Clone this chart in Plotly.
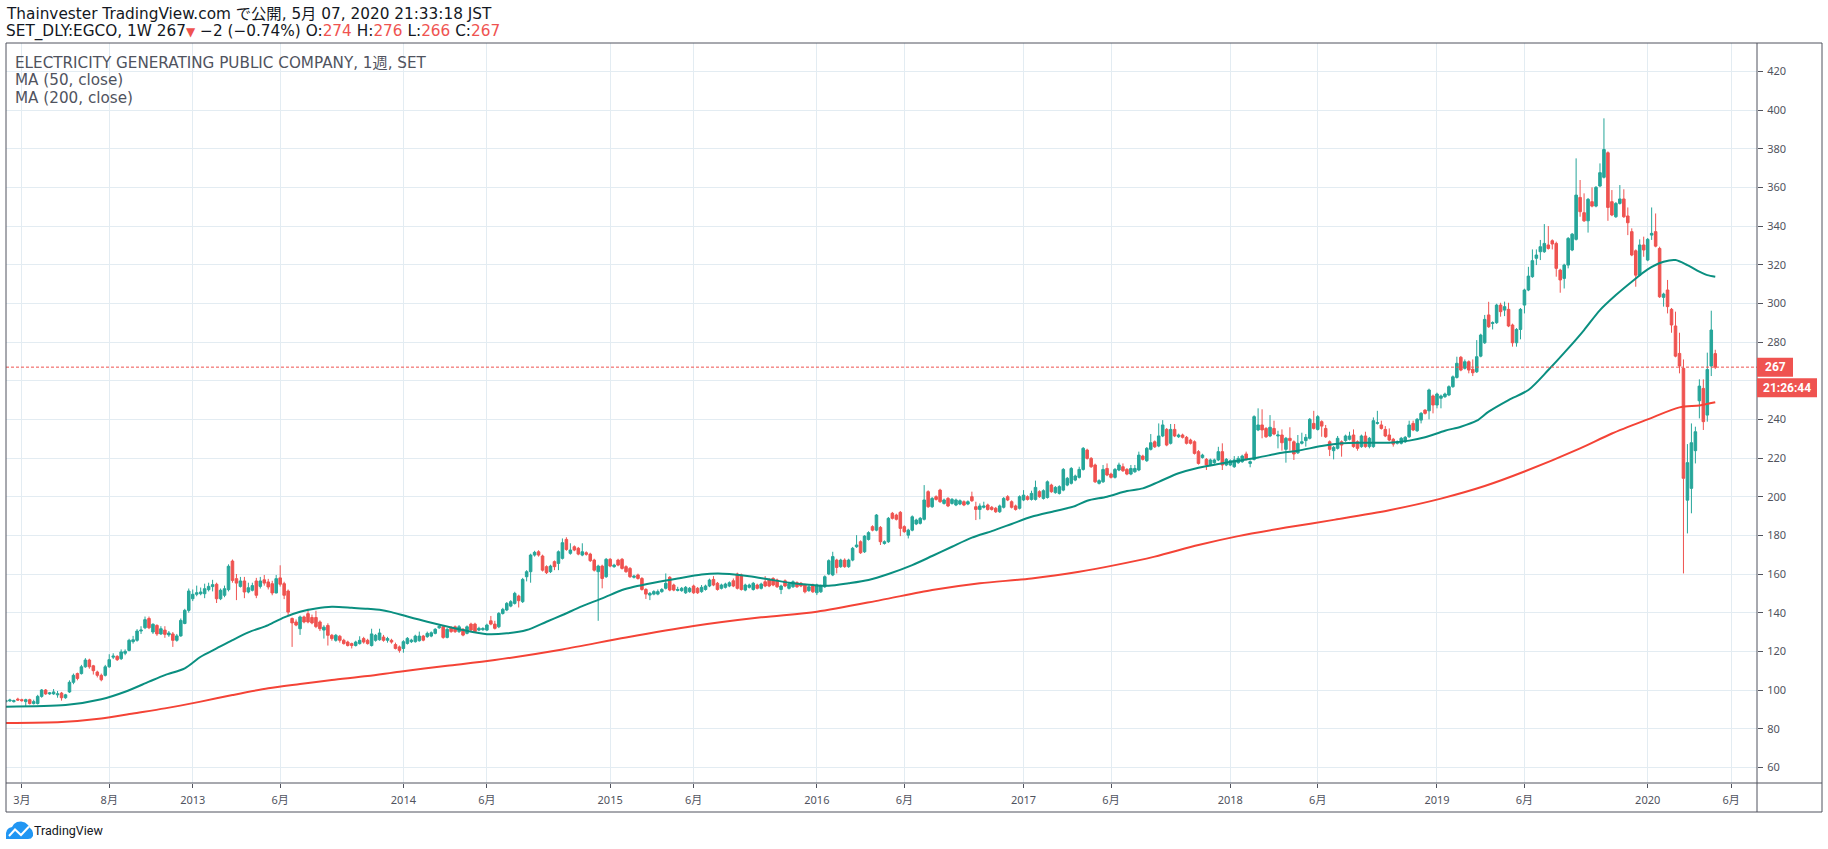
import pandas as pd
import plotly.graph_objects as go

# ---------------- data (weekly bars, (open, high, low, close)) ----------------
FIRST_WEEK = "2012-02-06"

wk2012 = [
    (94.0, 95.0, 93.5, 94.5), (94.3, 95.5, 94.0, 94.8), (94.0, 95.0, 93.5, 94.5), (95.3, 96.0, 94.5, 94.8),
    (95.0, 95.5, 94.0, 94.5), (94.0, 95.5, 91.5, 95.0), (95.0, 95.5, 92.5, 93.0), (93.0, 95.0, 92.5, 94.0),
    (93.0, 97.5, 92.5, 96.7), (96.7, 100.5, 96.0, 100.0), (100.0, 100.5, 97.5, 98.0), (98.0, 99.0, 97.5, 98.5),
    (98.0, 100.5, 97.5, 99.0), (97.5, 99.5, 96.0, 98.0), (98.4, 99.0, 94.5, 96.0), (96.0, 98.0, 95.5, 97.5),
    (99.0, 105.0, 98.5, 104.0), (104.0, 108.5, 103.0, 107.6), (108.5, 109.0, 105.0, 106.0), (108.5, 113.0, 108.0, 112.0),
    (112.0, 116.5, 111.5, 115.5), (115.5, 116.2, 111.0, 112.0), (112.5, 113.0, 108.0, 110.0), (109.3, 110.0, 106.5, 107.6),
    (107.6, 108.5, 104.5, 105.3), (107.6, 113.0, 107.0, 112.0), (112.0, 118.5, 111.5, 115.7), (117.0, 119.0, 116.0, 117.5),
    (117.4, 118.0, 115.0, 115.7), (116.2, 121.0, 115.5, 119.7), (119.0, 121.0, 118.0, 120.0), (120.5, 126.5, 120.0, 125.7),
    (125.0, 128.0, 124.0, 126.0), (125.7, 131.5, 125.0, 130.5), (130.5, 133.0, 129.0, 131.0), (132.2, 138.0, 131.5, 136.4),
    (137.0, 138.0, 131.5, 132.2), (130.0, 134.5, 129.0, 134.0), (133.4, 134.0, 128.0, 129.0), (129.0, 133.0, 128.5, 131.7),
    (131.0, 133.0, 127.0, 128.8), (128.5, 130.5, 127.5, 129.5), (129.0, 130.0, 122.3, 125.7), (125.7, 129.0, 125.0, 128.0),
    (128.0, 137.0, 127.5, 136.0), (134.4, 142.0, 134.0, 141.2), (141.2, 152.5, 140.0, 151.2),
]
wk2013 = [
    (147.2, 152.0, 146.0, 149.5), (149.5, 154.0, 148.5, 150.3), (149.8, 153.0, 149.0, 150.7), (149.8, 155.0, 147.5, 152.4),
    (151.9, 155.5, 151.0, 153.6), (153.5, 157.0, 151.0, 154.5), (154.7, 155.5, 145.0, 147.2), (147.2, 152.5, 146.5, 151.6),
    (149.0, 154.0, 148.0, 152.4), (151.9, 165.0, 151.0, 164.0), (166.7, 167.5, 155.5, 156.7), (157.6, 160.0, 146.5, 155.3),
    (153.6, 158.5, 153.0, 156.4), (156.4, 158.5, 147.5, 150.7), (150.7, 155.5, 150.0, 152.9), (151.6, 155.5, 151.0, 154.0),
    (156.4, 158.0, 147.5, 149.0), (153.6, 158.5, 152.5, 156.4), (157.0, 159.5, 154.0, 155.3), (155.9, 157.5, 152.0, 153.3),
    (155.0, 156.5, 149.0, 150.2), (150.2, 159.5, 150.0, 157.6), (158.0, 164.5, 153.5, 154.7), (155.0, 156.0, 147.0, 149.0),
    (151.2, 152.0, 138.5, 140.3), (137.0, 137.5, 122.3, 134.7), (135.2, 136.5, 133.0, 133.6), (131.7, 138.5, 128.5, 137.8),
    (137.8, 138.5, 134.5, 135.2), (139.5, 142.0, 134.5, 135.2), (137.5, 139.0, 134.0, 134.7), (137.5, 141.0, 132.0, 132.8),
    (135.2, 136.0, 130.5, 131.7), (131.0, 133.5, 126.6, 132.5), (133.4, 134.5, 123.0, 128.3), (128.3, 129.0, 125.5, 126.6),
    (125.7, 129.0, 125.0, 128.3), (127.8, 128.5, 124.5, 125.7), (125.7, 126.5, 123.5, 124.0), (124.8, 125.5, 122.5, 123.0),
    (124.0, 124.5, 121.5, 123.0), (123.0, 125.5, 122.5, 124.8), (124.0, 127.8, 123.5, 125.7), (126.6, 127.5, 124.0, 124.8),
    (125.7, 126.5, 123.5, 124.0), (123.0, 131.7, 122.5, 129.0), (125.7, 129.0, 125.0, 128.3), (126.0, 131.7, 125.5, 129.5),
    (127.4, 128.5, 125.0, 125.7), (125.7, 127.5, 124.5, 126.6), (125.7, 126.5, 124.0, 124.8), (123.5, 124.5, 121.0, 121.5),
    (122.3, 123.0, 119.3, 120.5),
]
wk2014 = [
    (121.5, 125.8, 119.3, 125.0), (124.1, 127.4, 123.5, 126.7), (125.0, 126.5, 124.3, 125.8), (125.0, 128.6, 124.5, 127.9),
    (125.5, 130.2, 125.0, 127.9), (127.9, 128.5, 125.2, 125.8), (127.6, 130.2, 127.0, 129.3), (127.9, 130.3, 127.3, 129.6),
    (129.3, 132.0, 128.8, 131.4), (132.2, 133.6, 131.6, 132.9), (132.7, 133.4, 126.5, 127.2), (127.2, 132.0, 126.7, 131.4),
    (132.2, 133.0, 129.6, 130.2), (132.7, 133.4, 129.5, 130.2), (130.2, 133.6, 129.5, 132.7), (131.4, 132.0, 127.8, 128.4),
    (129.3, 133.4, 128.8, 132.7), (134.1, 134.8, 130.4, 131.0), (134.1, 134.8, 129.6, 130.2), (131.0, 132.7, 130.4, 131.9),
    (131.2, 132.5, 130.6, 131.8), (131.0, 134.3, 130.5, 133.6), (135.8, 138.3, 133.5, 134.1), (134.1, 135.8, 131.3, 131.9),
    (132.7, 140.3, 132.0, 139.6), (139.6, 142.5, 139.0, 141.7), (141.4, 145.5, 140.8, 144.8), (143.4, 146.5, 142.8, 145.7),
    (144.8, 150.8, 144.2, 150.0), (148.6, 149.3, 142.7, 146.2), (145.7, 158.0, 145.0, 157.2), (158.6, 162.0, 156.2, 161.2),
    (161.2, 170.5, 155.5, 169.8), (169.8, 172.0, 169.0, 171.2), (171.5, 172.3, 169.0, 169.8), (169.3, 170.0, 161.3, 162.0),
    (163.8, 164.5, 160.0, 160.7), (161.2, 164.8, 160.5, 164.1), (166.4, 167.0, 162.0, 163.8), (165.5, 172.2, 162.0, 171.5),
    (168.1, 178.4, 167.5, 176.2), (177.9, 179.0, 172.0, 172.7), (170.7, 175.9, 170.0, 172.4), (174.1, 174.8, 171.8, 172.4),
    (173.3, 174.0, 169.7, 170.3), (169.8, 175.9, 169.2, 171.5), (171.0, 171.7, 169.5, 170.2), (170.3, 171.0, 166.2, 166.9),
    (167.2, 167.9, 161.3, 162.0), (161.2, 164.8, 135.8, 164.1), (164.1, 164.8, 152.6, 157.7), (158.6, 168.3, 158.0, 167.6),
]
wk2015 = [
    (167.6, 168.3, 163.5, 164.1), (163.8, 165.3, 163.2, 164.6), (167.2, 167.9, 164.0, 164.6), (167.6, 168.3, 162.3, 162.9),
    (163.8, 164.5, 160.6, 161.2), (162.9, 163.6, 158.0, 158.6), (158.3, 159.6, 157.7, 158.9), (159.5, 160.2, 157.1, 157.7),
    (157.7, 158.4, 151.4, 152.0), (152.0, 152.7, 147.1, 149.6), (149.1, 150.7, 146.5, 150.0), (149.6, 151.6, 149.0, 150.9),
    (149.6, 152.0, 149.0, 150.9), (150.9, 152.7, 150.3, 152.0), (152.6, 160.3, 152.0, 155.2), (158.3, 158.9, 151.1, 151.7),
    (154.3, 155.0, 151.1, 151.7), (151.5, 153.4, 151.0, 152.0), (151.4, 153.3, 150.8, 152.6), (150.3, 153.8, 149.7, 153.1),
    (150.9, 153.3, 150.3, 152.6), (153.8, 154.5, 149.7, 150.3), (152.6, 153.3, 149.7, 150.3), (150.9, 154.3, 150.3, 153.1),
    (152.0, 154.5, 151.4, 153.8), (153.8, 157.6, 153.2, 156.9), (157.2, 158.9, 153.7, 154.3), (155.2, 155.9, 151.4, 152.0),
    (152.6, 155.0, 152.0, 154.3), (153.1, 155.5, 152.5, 154.8), (153.8, 156.2, 153.2, 155.5), (156.5, 157.7, 153.2, 153.8),
    (160.0, 160.7, 152.0, 152.6), (159.5, 160.2, 151.4, 152.0), (151.7, 155.0, 151.1, 154.3), (153.1, 155.0, 152.5, 154.3),
    (152.0, 155.9, 151.4, 155.2), (154.3, 155.0, 152.0, 152.6), (152.6, 155.5, 152.0, 154.8), (156.0, 158.9, 153.2, 153.8),
    (157.2, 157.9, 153.2, 153.8), (157.7, 158.4, 153.7, 154.3), (156.9, 157.6, 152.8, 153.4), (152.0, 154.5, 149.6, 153.8),
    (156.5, 157.2, 153.2, 153.8), (152.6, 155.5, 152.0, 154.8), (153.4, 156.7, 152.8, 156.0), (155.5, 156.2, 152.8, 153.4),
    (155.2, 155.9, 153.2, 153.8), (154.3, 155.0, 150.0, 150.8), (151.4, 154.1, 150.8, 153.4), (154.3, 155.0, 150.2, 150.8),
]
wk2016 = [
    (150.3, 155.0, 149.1, 154.3), (150.8, 154.5, 150.2, 153.8), (153.4, 159.3, 152.8, 158.6), (160.0, 167.6, 159.4, 166.9),
    (159.5, 171.5, 158.9, 169.0), (167.2, 167.9, 160.3, 163.4), (163.8, 167.9, 163.2, 167.2), (167.2, 168.1, 163.2, 163.8),
    (163.8, 167.9, 163.2, 167.2), (167.2, 174.0, 166.6, 173.3), (174.1, 180.1, 173.5, 175.0), (176.7, 177.4, 170.4, 171.0),
    (171.5, 180.1, 170.9, 179.6), (177.9, 182.1, 177.3, 181.4), (184.5, 185.2, 182.1, 182.7), (182.7, 191.0, 182.1, 190.5),
    (184.1, 184.8, 175.0, 176.7), (175.8, 177.4, 175.2, 176.7), (176.7, 189.5, 176.1, 188.8), (191.4, 192.1, 188.2, 188.8),
    (190.5, 191.2, 187.7, 188.3), (191.9, 192.6, 179.6, 183.6), (184.5, 185.2, 181.3, 181.9), (180.1, 183.4, 178.4, 182.7),
    (182.7, 190.3, 182.1, 189.6), (185.9, 188.6, 185.3, 187.9), (186.2, 189.5, 185.6, 188.8), (188.3, 206.0, 187.7, 198.3),
    (202.6, 203.3, 194.2, 194.8), (194.8, 199.8, 194.2, 199.1), (200.0, 200.7, 198.0, 198.6), (203.4, 204.1, 196.8, 197.4),
    (196.5, 199.0, 195.9, 198.3), (199.1, 199.8, 194.6, 195.2), (196.5, 199.3, 195.9, 198.6), (195.7, 199.0, 195.1, 198.3),
    (196.2, 198.6, 195.6, 197.9), (197.4, 198.1, 195.1, 195.7), (196.2, 198.1, 195.6, 197.4), (200.0, 202.6, 197.3, 197.9),
    (194.8, 197.4, 187.9, 193.4), (193.4, 196.5, 188.3, 195.2), (194.5, 197.4, 193.9, 195.2), (195.7, 196.4, 192.8, 193.4),
    (194.5, 195.2, 192.8, 193.4), (194.0, 194.7, 191.6, 192.2), (192.2, 195.9, 191.6, 195.2), (194.5, 199.8, 193.9, 199.1),
    (200.0, 200.8, 197.7, 198.3), (197.4, 198.1, 193.9, 194.5), (195.2, 195.9, 192.8, 193.4), (194.0, 200.7, 193.4, 200.0),
]
wk2017 = [
    (198.3, 203.4, 197.7, 200.8), (200.0, 200.7, 198.0, 198.6), (198.6, 203.1, 198.0, 201.7), (198.6, 208.3, 198.0, 204.8),
    (202.6, 203.3, 199.4, 200.0), (199.1, 203.8, 198.5, 203.1), (199.6, 208.4, 199.0, 207.7), (206.0, 206.7, 202.0, 202.6),
    (202.1, 205.5, 201.5, 204.8), (201.7, 205.9, 201.1, 205.2), (203.4, 214.8, 202.8, 214.1), (206.0, 210.2, 205.4, 209.5),
    (206.9, 215.3, 206.3, 214.6), (208.6, 211.4, 208.0, 210.7), (210.0, 215.5, 209.4, 214.1), (214.1, 225.7, 213.5, 225.0),
    (224.1, 224.8, 219.2, 219.8), (219.8, 220.5, 214.9, 215.5), (216.4, 217.1, 207.1, 207.7), (206.9, 209.0, 206.3, 208.3),
    (207.7, 216.4, 207.1, 214.1), (214.6, 217.2, 210.6, 211.2), (211.7, 212.4, 209.4, 210.0), (210.0, 214.8, 209.4, 214.1),
    (213.8, 217.6, 213.2, 216.4), (215.5, 217.2, 212.8, 213.4), (214.1, 214.8, 211.1, 211.7), (211.7, 216.4, 211.1, 214.6),
    (212.9, 216.4, 212.3, 214.6), (213.8, 223.3, 213.2, 221.5), (221.0, 221.7, 218.7, 219.3), (218.6, 225.7, 218.0, 225.0),
    (224.5, 232.4, 223.9, 227.9), (228.4, 229.1, 225.2, 225.8), (226.2, 237.9, 225.6, 231.4), (231.4, 239.6, 230.8, 237.1),
    (234.8, 235.5, 226.1, 226.7), (227.6, 237.6, 227.0, 234.8), (234.8, 237.6, 230.8, 231.4), (231.0, 232.6, 230.4, 231.9),
    (231.9, 232.6, 230.1, 230.7), (230.7, 231.4, 227.0, 227.6), (229.3, 230.0, 227.0, 227.6), (228.4, 229.1, 221.8, 222.4),
    (223.3, 224.1, 216.6, 217.2), (220.3, 222.2, 219.7, 221.5), (219.3, 220.0, 213.8, 216.4), (216.4, 219.7, 215.8, 219.0),
    (217.6, 219.7, 217.0, 219.0), (219.0, 225.8, 218.4, 223.3), (223.3, 227.6, 213.8, 216.4), (216.4, 220.0, 215.8, 219.3),
]
wk2018 = [
    (216.4, 219.3, 215.8, 218.6), (215.5, 221.0, 214.9, 219.0), (217.6, 221.0, 217.0, 219.8), (218.1, 221.7, 217.5, 221.0),
    (222.1, 223.3, 218.7, 219.3), (217.2, 218.8, 215.2, 218.1), (219.3, 242.1, 218.7, 241.4), (234.5, 245.7, 233.9, 237.1),
    (237.1, 245.2, 230.2, 234.5), (235.3, 236.0, 230.4, 231.0), (231.4, 242.2, 230.8, 235.9), (235.3, 239.3, 231.8, 232.4),
    (231.4, 234.1, 225.0, 231.9), (231.9, 234.8, 223.8, 227.9), (224.5, 230.9, 217.6, 230.2), (230.2, 235.9, 223.8, 229.0),
    (228.4, 229.1, 219.0, 222.1), (222.7, 231.9, 222.1, 227.6), (227.6, 233.1, 227.0, 228.4), (229.0, 232.4, 225.9, 230.7),
    (230.2, 240.7, 229.6, 240.0), (237.9, 244.4, 234.7, 235.3), (234.8, 242.2, 234.2, 241.4), (238.8, 239.5, 231.0, 236.5),
    (235.3, 237.1, 230.4, 231.0), (228.4, 229.1, 221.0, 224.5), (223.8, 226.2, 219.3, 225.5), (225.0, 231.4, 224.4, 230.2),
    (228.4, 229.1, 220.7, 226.7), (229.0, 232.1, 228.4, 231.4), (229.7, 233.6, 229.1, 231.4), (231.9, 234.8, 225.3, 225.9),
    (228.4, 229.1, 223.8, 225.0), (225.9, 232.1, 225.3, 231.4), (231.4, 233.6, 225.3, 225.9), (225.9, 230.9, 225.0, 230.2),
    (225.9, 241.0, 225.3, 239.3), (237.9, 244.4, 237.3, 238.3), (237.1, 239.3, 234.7, 235.3), (234.8, 236.5, 230.8, 231.4),
    (231.9, 235.3, 228.7, 229.3), (229.7, 230.4, 225.9, 227.2), (227.6, 229.1, 227.0, 228.4), (227.6, 230.9, 227.0, 230.2),
    (228.4, 231.4, 227.8, 230.7), (231.0, 239.3, 230.4, 237.1), (237.9, 239.3, 233.9, 234.5), (234.1, 240.7, 233.5, 240.0),
    (239.6, 243.8, 237.9, 243.1), (244.8, 245.2, 242.5, 243.1), (244.4, 255.9, 240.0, 255.2), (252.1, 252.8, 243.1, 247.4),
]
wk2019 = [
    (247.4, 253.8, 245.7, 253.1), (250.9, 252.8, 245.7, 252.1), (251.7, 253.8, 251.1, 253.1), (252.6, 257.6, 252.0, 256.9),
    (256.9, 262.7, 256.3, 262.0), (261.7, 272.4, 261.1, 269.0), (272.1, 272.8, 264.9, 265.5), (266.4, 271.0, 265.8, 269.8),
    (269.8, 270.5, 263.8, 265.5), (265.9, 271.0, 262.4, 264.1), (264.6, 281.0, 264.0, 272.4), (272.7, 284.3, 272.1, 283.6),
    (279.6, 294.0, 279.0, 291.7), (294.0, 300.8, 287.3, 287.9), (289.6, 290.7, 286.5, 290.0), (290.0, 299.8, 289.4, 299.1),
    (299.1, 300.3, 293.1, 295.7), (296.5, 300.9, 293.4, 298.3), (296.9, 300.3, 287.7, 288.3), (288.8, 289.5, 277.6, 279.6),
    (279.6, 287.2, 277.6, 286.5), (286.5, 297.6, 281.4, 296.9), (299.1, 307.6, 294.8, 306.9), (306.9, 318.9, 306.3, 314.1),
    (313.8, 327.9, 313.2, 322.1), (323.3, 327.9, 319.8, 325.0), (326.7, 332.8, 322.4, 329.3), (326.7, 341.0, 326.1, 331.0),
    (330.2, 340.0, 327.8, 328.4), (332.4, 333.1, 327.9, 330.7), (331.0, 331.9, 313.8, 318.1), (317.2, 317.9, 305.5, 312.1),
    (312.9, 320.5, 307.7, 319.8), (319.8, 334.3, 318.1, 333.6), (327.6, 336.4, 327.0, 335.8), (333.1, 375.0, 332.5, 356.0),
    (354.8, 363.8, 344.8, 347.4), (346.9, 356.9, 342.1, 342.7), (342.7, 354.5, 336.6, 353.8), (352.6, 360.0, 349.7, 350.3),
    (350.3, 360.7, 349.7, 360.0), (360.7, 372.4, 360.1, 367.6), (365.2, 395.7, 364.6, 379.6), (377.9, 378.6, 342.7, 349.6),
    (352.6, 358.6, 345.1, 345.7), (344.8, 352.4, 344.2, 351.7), (351.7, 361.2, 351.1, 354.0), (354.0, 359.0, 344.2, 344.8),
    (345.2, 349.6, 335.3, 341.7), (337.1, 338.8, 324.4, 325.0), (327.2, 327.9, 308.6, 314.6), (314.6, 333.1, 314.0, 330.2),
    (330.2, 334.5, 324.1, 327.6),
]
wk2020 = [
    (322.4, 333.8, 321.8, 333.1), (335.3, 349.6, 332.8, 336.2), (337.1, 346.5, 329.0, 329.6), (328.4, 329.3, 302.8, 303.4),
    (303.1, 305.5, 298.3, 304.8), (306.9, 312.1, 294.8, 298.3), (296.9, 297.6, 284.8, 288.8), (288.3, 295.7, 272.1, 272.7),
    (274.1, 284.8, 263.8, 267.6), (266.4, 271.0, 160.3, 209.5), (198.2, 227.2, 181.0, 217.6), (204.3, 237.9, 191.4, 227.9),
    (223.8, 236.2, 217.2, 233.6), (249.6, 260.7, 240.5, 257.2), (256.0, 260.7, 234.5, 238.8), (242.2, 274.5, 238.8, 265.8),
    (267.6, 296.2, 262.4, 286.2), (274.0, 276.0, 266.0, 267.0),
]

# moving averages, sampled at bar indices (0 = first bar)
ma50_bar = [0, 15, 24, 30, 36, 40, 45, 49, 53, 57, 61, 66, 70, 74, 78, 82, 87, 91, 94, 97, 101, 106, 115, 121,
            126, 131, 136, 140, 145, 150, 155, 158, 163, 169, 175, 179, 182, 187, 192, 197, 202, 207, 212, 217,
            222, 228, 233, 238, 243, 248, 253, 258, 264, 269, 272, 277, 282, 286, 290, 295, 300, 305, 310, 315,
            321, 325, 331, 336, 341, 348, 353, 357, 362, 366, 370, 373, 378, 383, 388, 393, 397, 401, 405, 409,
            413, 417, 420, 423, 426, 428, 430]
ma50_val = [91.4, 92.2, 95.2, 99.1, 104.3, 107.7, 111.2, 117.2, 121.5, 125.8, 129.8, 133.6, 137.6, 140.5, 142.2,
            143.1, 142.6, 142.0, 141.5, 140.3, 138.0, 135.3, 131.0, 128.9, 129.3, 131.0, 135.3, 138.8, 143.4, 147.4,
            151.7, 153.4, 155.5, 157.7, 159.7, 160.3, 160.0, 158.9, 157.2, 155.5, 154.5, 153.9, 155.2, 156.9, 160.0,
            164.6, 169.3, 174.1, 178.8, 182.2, 185.9, 189.6, 192.6, 195.2, 197.9, 200.0, 202.9, 204.3, 207.7, 212.1,
            215.0, 216.9, 218.6, 220.3, 222.7, 223.8, 226.2, 227.6, 227.9, 227.9, 229.0, 230.7, 234.1, 236.2, 239.3,
            244.0, 250.0, 255.2, 265.5, 276.7, 286.2, 296.5, 304.3, 311.2, 317.6, 321.5, 322.4, 319.8, 316.4, 314.6,
            313.8]
ma200_bar = [0, 14, 24, 32, 40, 49, 57, 66, 74, 82, 91, 99, 111, 123, 140, 156, 173, 190, 204, 220, 233, 245,
             258, 270, 279, 289, 300, 310, 322, 334, 348, 361, 372, 382, 396, 404, 413, 421, 426, 430]
ma200_val = [83.0, 83.5, 85.3, 87.9, 90.5, 94.0, 97.4, 100.9, 103.1, 105.2, 107.2, 109.5, 112.5, 115.5, 121.0,
             127.2, 133.1, 137.6, 140.5, 146.5, 151.7, 155.2, 157.7, 161.2, 164.6, 169.0, 175.0, 179.6, 184.0,
             188.0, 193.0, 199.0, 205.5, 213.0, 225.0, 232.7, 240.0, 246.2, 247.2, 248.8]

tick_dates = ["2012-03-05", "2012-08-06", "2012-12-31", "2013-06-03", "2014-01-06", "2014-06-02",
              "2015-01-05", "2015-06-01", "2016-01-04", "2016-06-06", "2017-01-02", "2017-06-05",
              "2018-01-01", "2018-06-04", "2018-12-31", "2019-06-03", "2020-01-06", "2020-06-01"]
tick_text = ["3月", "8月", "2013", "6月", "2014", "6月", "2015", "6月", "2016", "6月", "2017", "6月",
             "2018", "6月", "2019", "6月", "2020", "6月"]
price_ticks = list(range(60, 421, 20))
price_hidden = [260]          # covered by the last-price labels

# ---------------- assemble ----------------
bars = wk2012 + wk2013 + wk2014 + wk2015 + wk2016 + wk2017 + wk2018 + wk2019 + wk2020
dates = pd.date_range(FIRST_WEEK, periods=len(bars), freq="7D")
opens = [b[0] for b in bars]
highs = [b[1] for b in bars]
lows = [b[2] for b in bars]
closes = [b[3] for b in bars]

GREEN = "#26a69a"
RED = "#ef5350"
GRID = "#e3ecf2"
FRAME = "#50535e"
TEXT = "#131722"
LABEL = "#50535e"
FONT = "Noto Sans, Noto Sans CJK JP, sans-serif"
HFONT = "DejaVu Sans, Noto Sans CJK JP, sans-serif"

W, H = 1828, 849
L, R, T, B = 6, 1757, 43, 783          # plot area in pixels
PW, PH = R - L, B - T


def px(x):
    return (x - L) / PW


def py(y):
    return (B - y) / PH


x_start = dates[0] + pd.Timedelta(weeks=0.03)
x_end = dates[0] + pd.Timedelta(weeks=440.5)
y_lo, y_hi = 51.9, 434.67

fig = go.Figure()
fig.add_trace(go.Candlestick(
    x=dates, open=opens, high=highs, low=lows, close=closes,
    increasing=dict(line=dict(color=GREEN, width=1), fillcolor=GREEN),
    decreasing=dict(line=dict(color=RED, width=1), fillcolor=RED),
    whiskerwidth=0, hoverinfo="skip", name="EGCO",
))
fig.add_trace(go.Scatter(
    x=[dates[i] for i in ma200_bar], y=ma200_val, mode="lines",
    line=dict(color="#f44336", width=2, shape="spline", smoothing=0.8), hoverinfo="skip",
))
fig.add_trace(go.Scatter(
    x=[dates[i] for i in ma50_bar], y=ma50_val, mode="lines",
    line=dict(color="#0a8f80", width=2, shape="spline", smoothing=0.8), hoverinfo="skip",
))

last = bars[-1]
last_close = closes[-1]

shapes = []
# price line
shapes.append(dict(type="line", xref="paper", yref="y", x0=0, x1=1, y0=last_close, y1=last_close,
                   line=dict(color=RED, width=1, dash="3px,2px"), layer="above"))
# frame
frame_lines = [
    ((L, T), (1822, T)), ((L, 812), (1822, 812)), ((L, T), (L, 812)), ((1822, T), (1822, 812)),
    ((L, B), (1822, B)), ((R, T), (R, 812)),
]
for (xa, ya), (xb, yb) in frame_lines:
    shapes.append(dict(type="line", xref="paper", yref="paper", x0=px(xa), y0=py(ya), x1=px(xb), y1=py(yb),
                       line=dict(color=FRAME, width=1), layer="above"))
# price label boxes
shapes.append(dict(type="rect", xref="paper", yref="y", ysizemode="pixel", yanchor=last_close,
                   x0=px(R), x1=px(1793), y0=-9.5, y1=9.5, fillcolor=RED, line=dict(width=0)))
shapes.append(dict(type="rect", xref="paper", yref="y", ysizemode="pixel", yanchor=last_close,
                   x0=px(R), x1=px(1817), y0=-30, y1=-11, fillcolor=RED, line=dict(width=0)))


# TradingView logo icon
def path(pts, close=True):
    s = "M " + " L ".join(f"{px(a):.5f},{py(b):.5f}" for a, b in pts)
    return s + (" Z" if close else "")


cloud = [(6, 839), (6, 833), (7, 830), (9, 828), (12, 827), (14, 824), (17, 822), (21, 821.5), (25, 822.5),
         (28, 825), (30, 828), (32, 830), (33, 833), (33, 836), (31, 838.5), (28, 839)]
shapes.append(dict(type="path", xref="paper", yref="paper", path=path(cloud),
                   fillcolor="#2196f3", line=dict(width=0)))
zig = [(9, 836), (15, 829.5), (21, 835), (29, 826.5)]
shapes.append(dict(type="path", xref="paper", yref="paper", path=path(zig, close=False),
                   line=dict(color="white", width=2)))

annotations = []


def text(x, y, s, size, color=TEXT, family=HFONT, anchor="left", **kw):
    annotations.append(dict(xref="paper", yref="paper", x=px(x), y=py(y), text=s, showarrow=False,
                            xanchor=anchor, yanchor="middle", font=dict(size=size, color=color, family=family),
                            borderpad=0, **kw))


red = lambda v: f"<span style='color:{RED}'>{v:g}</span>"
text(5, 14, "Thainvester TradingView.com で公開, 5月 07, 2020 21:33:18 JST", 15.3)
text(5, 31.8, f"SET_DLY:EGCO, 1W {last[3]:g}<span style='color:{RED};font-size:12px'>▼</span> −2 (−0.74%) "
              f"O:{red(last[0])} H:{red(last[1])} L:{red(last[2])} C:{red(last[3])}", 15.3)
text(14, 62.5, "ELECTRICITY GENERATING PUBLIC COMPANY, 1週, SET", 15.2, color=LABEL)
text(14, 80.2, "MA (50, close)", 15.2, color=LABEL)
text(14, 97.9, "MA (200, close)", 15.2, color=LABEL)
text(33, 830.5, "TradingView", 12.5, family="Roboto, sans-serif")

annotations.append(dict(xref="paper", yref="y", x=px(1775), y=last_close, text=f"<b>{last_close:g}</b>",
                        showarrow=False, xanchor="center", yanchor="middle", borderpad=0,
                        font=dict(size=12, color="white", family="Roboto, sans-serif")))
annotations.append(dict(xref="paper", yref="y", x=px(1787), y=last_close, yshift=-20.5, text="<b>21:26:44</b>",
                        showarrow=False, xanchor="center", yanchor="middle", borderpad=0,
                        font=dict(size=12, color="white", family="Roboto, sans-serif")))

fig.update_layout(
    width=W, height=H,
    margin=dict(l=L, r=W - R, t=T, b=H - B, pad=0),
    paper_bgcolor="white", plot_bgcolor="white",
    showlegend=False, hovermode=False,
    boxgap=0.2, boxgroupgap=0.2,
    font=dict(family=FONT, color=LABEL),
    xaxis=dict(type="date", range=[x_start, x_end], tickmode="array", tickvals=tick_dates, ticktext=tick_text,
               showgrid=True, gridcolor=GRID, gridwidth=1, ticks="outside", ticklen=4, tickcolor=FRAME,
               tickfont=dict(size=11, color=LABEL, family=FONT), showline=False, zeroline=False,
               rangeslider=dict(visible=False), ticklabelstandoff=3),
    yaxis=dict(side="right", range=[y_lo, y_hi], tickmode="array", tickvals=price_ticks,
               ticktext=["" if v in price_hidden else str(v) for v in price_ticks],
               showgrid=True, gridcolor=GRID, gridwidth=1,
               ticks="outside", ticklen=5, tickcolor=FRAME, tickfont=dict(size=11, color=LABEL, family=FONT),
               showline=False, zeroline=False, ticklabelstandoff=2),
    shapes=shapes, annotations=annotations,
)

fig.write_html("out.html", config={"displayModeBar": False},
               post_script="document.body.style.margin='0';document.body.style.overflow='hidden';")
